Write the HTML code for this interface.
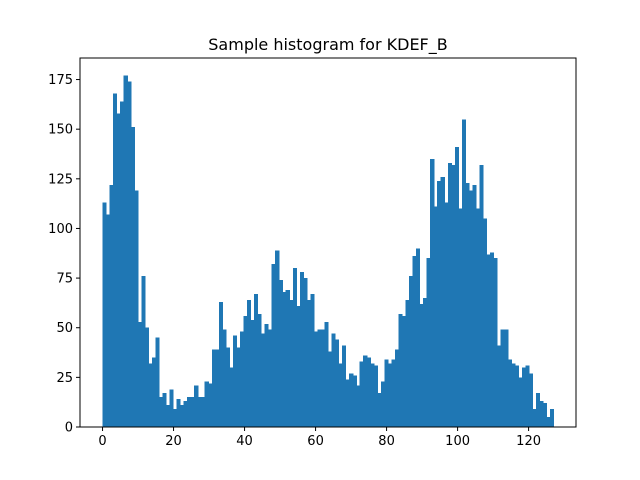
<!DOCTYPE html>
<html><head><meta charset="utf-8"><style>
body{margin:0;background:#fff}
svg{display:block;font-family:"DejaVu Sans","Liberation Sans",sans-serif}
</style></head><body>
<svg id="chart" width="640" height="480">
<rect width="640" height="480" fill="#fff"/>
<text x="328" y="50" text-anchor="middle" font-size="16">Sample histogram for KDEF_B</text>
<g id="bars" shape-rendering="crispEdges"></g>
<rect x="80" y="58" width="496" height="369" fill="none" stroke="#000" stroke-width="1"/>
<g id="xaxis"></g>
<g id="yaxis"></g>
</svg>
<script>
const counts=[113,107,122,168,158,164,177,174,151,119,53,76,50,32,35,45,15,17,11,19,9,14,11,13,15,15,21,15,15,23,22,39,
39,63,49,40,30,46,40,48,56,64,54,67,57,47,52,49,82,89,74,68,69,64,80,61,78,75,64,67,48,49,49,53,38,47,44,32,41,24,27,26,21,
33,36,35,32,31,17,23,34,32,34,39,57,56,
64,76,86,90,62,65,85,135,111,124,126,113,
133,132,141,110,155,123,119,122,110,132,105,87,88,85,
41,49,49,34,32,31,25,30,31,27,9,17,13,12,5,9];
const binMin=0, binMax=127;
const xTicks=[0,20,40,60,80,100,120];
const yTicks=[0,25,50,75,100,125,150,175];
const NS="http://www.w3.org/2000/svg";
const L=80,R=576,T=58,B=427;
const xr0=binMin-(binMax-binMin)*0.05, xr1=binMax+(binMax-binMin)*0.05;
const yMax=Math.max(...counts)*1.05;
const xs=v=>L+(v-xr0)/(xr1-xr0)*(R-L);
const ys=v=>B-v/yMax*(B-T);
const bw=(binMax-binMin)/counts.length;
const gb=document.getElementById('bars');
counts.forEach((c,i)=>{
  const r=document.createElementNS(NS,'rect');
  const x0=xs(binMin+i*bw), x1=xs(binMin+(i+1)*bw);
  r.setAttribute('x',x0);r.setAttribute('width',x1-x0+0.6);
  r.setAttribute('y',ys(c));r.setAttribute('height',B-ys(c));
  r.setAttribute('fill','#1f77b4');
  
  
  gb.appendChild(r);
});
const gx=document.getElementById('xaxis');
xTicks.forEach(t=>{
  const x=xs(t);
  const l=document.createElementNS(NS,'line');
  l.setAttribute('x1',x);l.setAttribute('x2',x);l.setAttribute('y1',B);l.setAttribute('y2',B+4);l.setAttribute('stroke','#000');
  
  
  gx.appendChild(l);
  const tx=document.createElementNS(NS,'text');
  tx.setAttribute('x',x);tx.setAttribute('y',B+18);tx.setAttribute('text-anchor','middle');tx.setAttribute('font-size','13');
  tx.textContent=t;
  
  
  gx.appendChild(tx);
});
const gy=document.getElementById('yaxis');
yTicks.forEach(t=>{
  const y=ys(t);
  const l=document.createElementNS(NS,'line');
  l.setAttribute('x1',L-4);l.setAttribute('x2',L);l.setAttribute('y1',y);l.setAttribute('y2',y);l.setAttribute('stroke','#000');
  
  
  gy.appendChild(l);
  const tx=document.createElementNS(NS,'text');
  tx.setAttribute('x',L-7);tx.setAttribute('y',y+4.5);tx.setAttribute('text-anchor','end');tx.setAttribute('font-size','13');
  tx.textContent=t;
  
  
  gy.appendChild(tx);
});
</script>
</body></html>
